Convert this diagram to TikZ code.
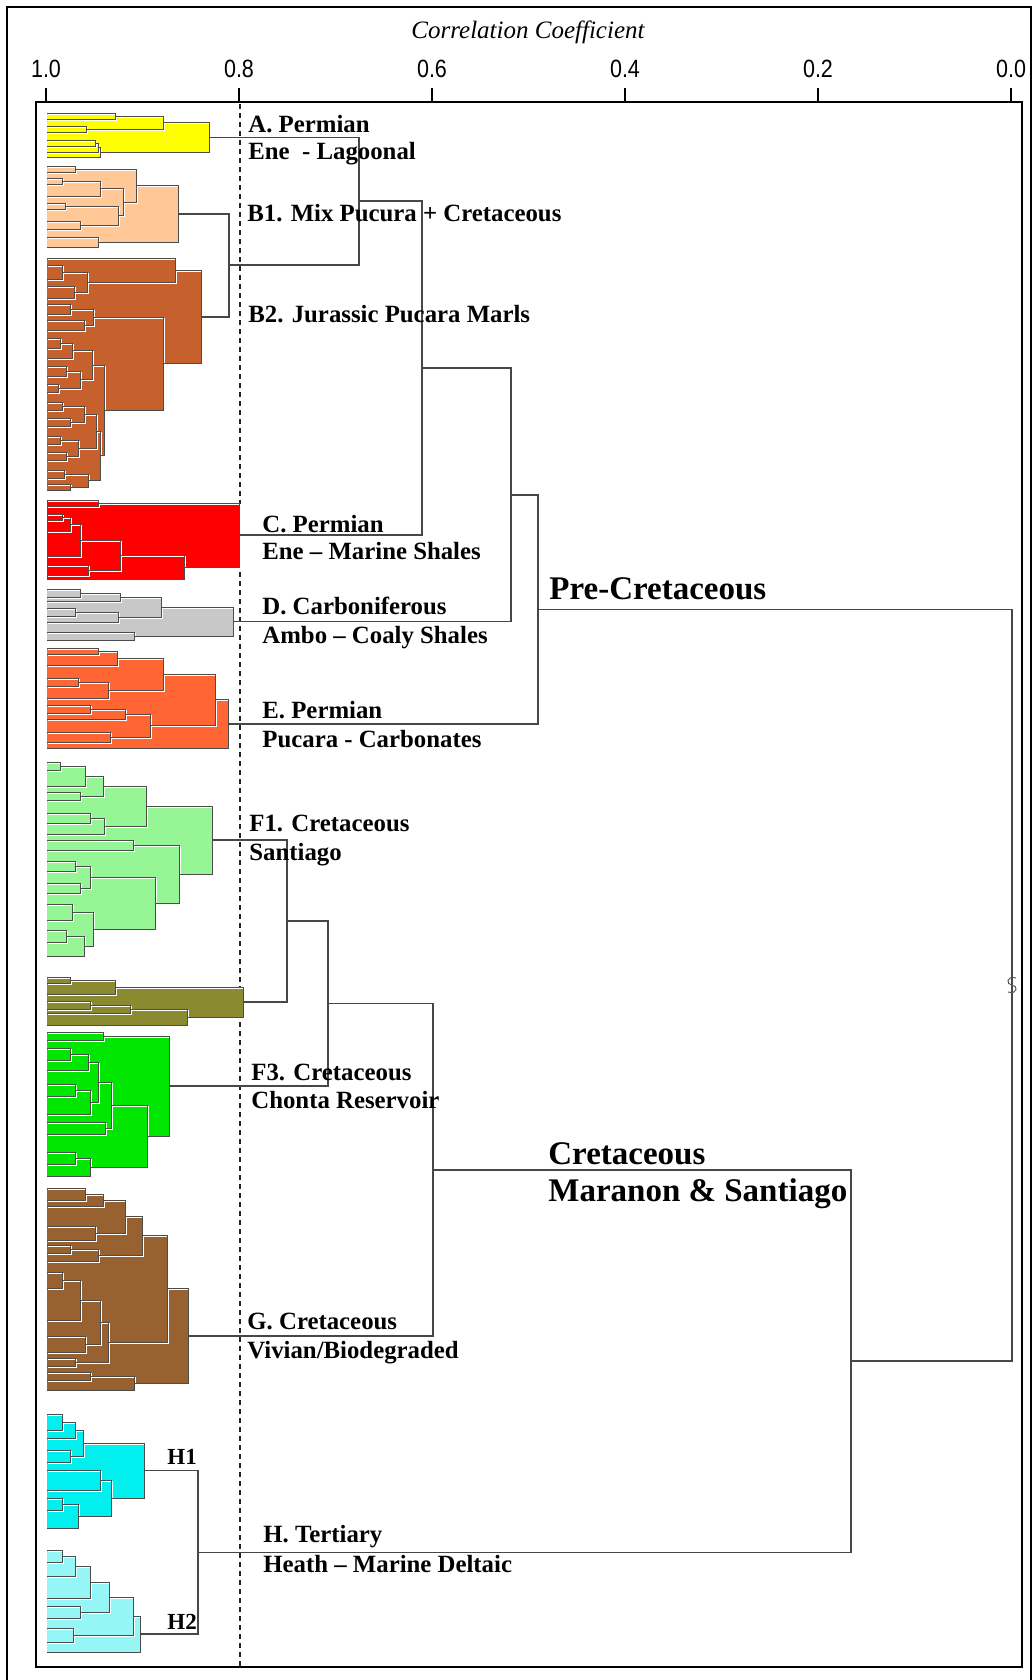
\documentclass[tikz,border=0pt]{standalone}
\usepackage{fontspec}
\setmainfont{Liberation Serif}
\newfontfamily\axisfont[FakeStretch=0.86]{Liberation Sans}
\definecolor{clA}{RGB}{255,255,0}
\definecolor{clBa}{RGB}{255,200,150}
\definecolor{clBb}{RGB}{198,97,46}
\definecolor{clC}{RGB}{255,0,0}
\definecolor{clD}{RGB}{200,200,200}
\definecolor{clE}{RGB}{255,102,51}
\definecolor{clFa}{RGB}{150,246,150}
\definecolor{clFb}{RGB}{138,138,48}
\definecolor{clFc}{RGB}{0,230,0}
\definecolor{clG}{RGB}{152,98,48}
\definecolor{clHa}{RGB}{0,240,240}
\definecolor{clHb}{RGB}{150,245,245}
% one coloured group: fills first, then the brackets
\newcommand\cluster[2]{%
  \foreach \xa/\ya/\xb/\yb/\xn in {#2}
    \fill[#1] (47,\ya) rectangle (\xn,\yb);
  \foreach \xa/\ya/\xb/\yb/\xn in {#2} {
    \draw[leafhi] (\xa,\ya) -| (\xn,\yb) -- (\xb,\yb);
    \draw[leafln] (\xa,\ya) -| (\xn,\yb) -- (\xb,\yb);
  }%
}
\begin{document}
\begin{tikzpicture}
[x=0.5pt,y=-0.5pt,
 link/.style={draw=black!72,line width=0.8pt},
 leafln/.style={draw=black!70,line width=0.45pt},
 leafhi/.style={draw=white,line width=0.45pt,shift={(1,1)}},
 grp/.style={anchor=base west,inner sep=0pt,font=\bfseries\fontsize{12.4}{14}\selectfont},
 big/.style={anchor=base west,inner sep=0pt,font=\bfseries\fontsize{16.5}{18}\selectfont},
 tick/.style={anchor=base,inner sep=0pt,font=\axisfont\fontsize{12.5}{14}\selectfont}]
\useasboundingbox (0,0) rectangle (1033,1680);
\clip (0,0) rectangle (1033,1680);

% frames and axis
\draw[line width=1.4pt] (7,7) rectangle (1031,1720);
\draw[line width=1.3pt] (36,102) rectangle (1022,1667);
\node[anchor=base,inner sep=0pt,font=\itshape\fontsize{12.5}{14}\selectfont] (title) at (528,39) {Correlation Coefficient};
\foreach \x/\v in {46/1.0,239/0.8,432/0.6,625/0.4,818/0.2,1011/0.0} {
  \draw[line width=0.6pt] (\x,88) -- (\x,102);
  \node[tick] (tick\x) at (\x,78) {\v};
}
\draw[black!85,line width=0.6pt,dash pattern=on 2.5pt off 2pt] (240,104) -- (240,1667);

% groups
\cluster{clA}{47/113/47/119/115, 47/126/47/132/86, 115/116/86/129/163, 47/140/47/146/95,
  95/143/47/152/98, 98/147.5/47/157/100, 163/122.5/100/152.25/209}
\cluster{clBa}{47/166/47/172/75, 47/178/47/184/62, 62/181/47/196/100, 47/203/47/209/65,
  47/221/47/229/80, 65/206/80/225/118, 100/188.5/118/215.5/123, 75/169/123/202/136,
  47/237/47/247/98, 136/185.5/98/242/178}
\cluster{clBb}{47/265/47/279/62, 47/286/47/298/74, 62/272/74/292/87, 47/258/87/282/175,
  47/304/47/314/70, 47/320/47/330/84, 70/309/84/325/93,
  47/338/47/348/60, 60/343/47/358/72, 47/366/47/376/66, 47/384/47/392/58, 66/371/58/388/80,
  72/350.5/80/379.5/92, 47/402/47/410/62, 47/418/47/426/70, 62/406/70/422/84,
  47/436/47/444/60, 47/452/47/460/66, 60/440/66/456/78, 84/414/78/448/96,
  47/470/47/478/64, 47/484/47/490/70, 64/474/70/487/88, 96/431/88/480.5/100,
  92/365/100/455.75/104, 93/317/104/410.4/163, 175/270/163/363.7/201}
\cluster{clC}{47/500/47/506/98, 47/514/47/520/62, 62/517/47/531/70, 70/524/47/556/80,
  47/565/47/575/88, 80/540/88/570/120, 120/555/47/579/184, 98/503/184/567/239}
\cluster{clD}{47/589/47/597/80, 80/593/47/601/120, 47/608/47/616/75, 75/612/47/622/118,
  120/597/118/617/161, 47/632/47/640/134, 161/607/134/636/233}
\cluster{clE}{47/648/47/654/98, 98/651/47/665/117, 47/678/47/686/78, 78/682/47/698/108,
  117/658/108/690/163, 47/705/47/713/90, 90/709/47/719/125, 47/732/47/742/110,
  125/714/110/737/150, 163/674/150/725.5/215, 215/699.75/47/748/228}
\cluster{clFa}{47/762/47/770/60, 60/766/47/786/85, 47/792/47/800/80, 85/776/80/796/103,
  47/813/47/823/90, 90/818/47/834/104, 103/786/104/826/146, 47/840/47/850/133,
  47/861/47/871/75, 47/883/47/893/80, 75/866/80/888/90, 47/904/47/920/72,
  47/930/47/942/66, 66/936/47/956/84, 72/912/84/946/93, 90/877/93/929/155,
  133/845/155/903/179, 146/806/179/874/212}
\cluster{clFb}{47/977/47/983/70, 70/980/47/994/115, 47/1001/47/1009/90, 90/1005/47/1013/130,
  130/1009/47/1025/187, 115/987/187/1017/243}
\cluster{clFc}{47/1032/47/1040/103, 47/1048/47/1060/70, 70/1054/47/1070/88, 47/1084/47/1096/75,
  75/1090/47/1114/90, 88/1062/90/1102/98, 47/1122/47/1134/105, 98/1082/105/1128/111,
  47/1152/47/1164/75, 75/1158/47/1176/90, 111/1105/90/1167/147, 103/1036/147/1136/169}
\cluster{clG}{47/1188/47/1200/85, 85/1194/47/1206/103, 47/1226/47/1240/95, 103/1200/95/1233/125,
  47/1245/47/1253/70, 70/1249/47/1261/98, 125/1216.5/98/1255/142, 47/1272/47/1288/62,
  62/1280/47/1320/80, 47/1336/47/1352/85, 80/1300/85/1344/100, 47/1358/47/1366/75,
  100/1322/75/1362/108, 142/1235.75/108/1342/167, 47/1372/47/1380/90, 90/1376/47/1390/134,
  167/1288.875/134/1383/188}
\cluster{clHa}{47/1414/47/1430/62, 62/1422/47/1438/75, 47/1450/47/1462/70, 75/1430/70/1456/83,
  47/1470/47/1490/100, 47/1498/47/1510/62, 62/1504/47/1528/78, 100/1480/78/1516/111,
  83/1443/111/1498/144}
\cluster{clHb}{47/1550/47/1562/62, 62/1556/47/1576/75, 75/1566/47/1598/90, 47/1606/47/1618/80,
  90/1582/80/1612/109, 47/1628/47/1642/73, 109/1597/73/1635/133, 133/1616/47/1652/140}

% group roots and joins
\coordinate (A) at (209,137.4);
\coordinate (B1) at (178,213.8);
\coordinate (B2) at (201,316.9);
\coordinate (B) at (229,265.3);
\coordinate (AB) at (359,201.3);
\coordinate (C) at (239,535);
\coordinate (ABC) at (422,368.2);
\coordinate (D) at (233,621.5);
\coordinate (ABCD) at (511,494.8);
\coordinate (E) at (228,723.9);
\coordinate (PRE) at (538,609.4);
\coordinate (F1) at (212,840);
\coordinate (F2) at (243,1002);
\coordinate (F12) at (287,921);
\coordinate (F3) at (169,1086);
\coordinate (F123) at (328,1003.5);
\coordinate (G) at (188,1335.9);
\coordinate (FG) at (433,1169.7);
\coordinate (H1) at (144,1470.5);
\coordinate (H2) at (140,1634);
\coordinate (H) at (198,1552.3);
\coordinate (CRET) at (851,1361);
\coordinate (TOP) at (1012,985.2);

\draw[link] (B1) -| (B) |- (B2);
\draw[link] (A) -| (AB) |- (B);
\draw[link] (AB) -| (ABC) |- (C);
\draw[link] (ABC) -| (ABCD) |- (D);
\draw[link] (ABCD) -| (PRE) |- (E);
\draw[link] (F1) -| (F12) |- (F2);
\draw[link] (F12) -| (F123) |- (F3);
\draw[link] (F123) -| (FG) |- (G);
\draw[link] (H1) -| (H) |- (H2);
\draw[link] (FG) -| (CRET) |- (H);
\draw[link] (PRE) -| (TOP) |- (CRET);
\draw[black!65,line width=0.5pt] (1016,978) .. controls (1006,975) and (1006,985) .. (1012,985)
  .. controls (1018,985) and (1018,995) .. (1008,992);

% labels
\node[grp] (labA) at (248,133) {A. Permian};
\node[grp] (labAb) at (248,160) {Ene~ - Lagoonal};
\node[grp] (labB1) at (247,221) {B1. Mix Pucura + Cretaceous};
\node[grp] (labB2) at (248,322) {B2. Jurassic Pucara Marls};
\node[grp] (labC) at (262,532) {C. Permian};
\node[grp] (labCb) at (262,559) {Ene – Marine Shales};
\node[grp] (labD) at (262,614) {D. Carboniferous};
\node[grp] (labDb) at (262,643) {Ambo – Coaly Shales};
\node[grp] (labE) at (262,718) {E. Permian};
\node[grp] (labEb) at (262,747) {Pucara - Carbonates};
\node[grp] (labF1) at (249,831) {F1. Cretaceous};
\node[grp] (labF1b) at (249,860) {Santiago};
\node[grp] (labF3) at (251,1080) {F3. Cretaceous};
\node[grp] (labF3b) at (251,1108) {Chonta Reservoir};
\node[grp] (labG) at (247,1329) {G. Cretaceous};
\node[grp] (labGb) at (247,1358) {Vivian/Biodegraded};
\node[grp] (labH) at (263,1542) {H. Tertiary};
\node[grp] (labHb) at (263,1572) {Heath – Marine Deltaic};
\node[grp,font=\bfseries\fontsize{11.5}{13}\selectfont] (labH1) at (167,1464) {H1};
\node[grp,font=\bfseries\fontsize{11.5}{13}\selectfont] (labH2) at (167,1629) {H2};
\node[big] (labPre) at (549,599) {Pre-Cretaceous};
\node[big] (labCret) at (548,1164) {Cretaceous};
\node[big] (labCretb) at (548,1201) {Maranon \& Santiago};

\end{tikzpicture}
\end{document}
